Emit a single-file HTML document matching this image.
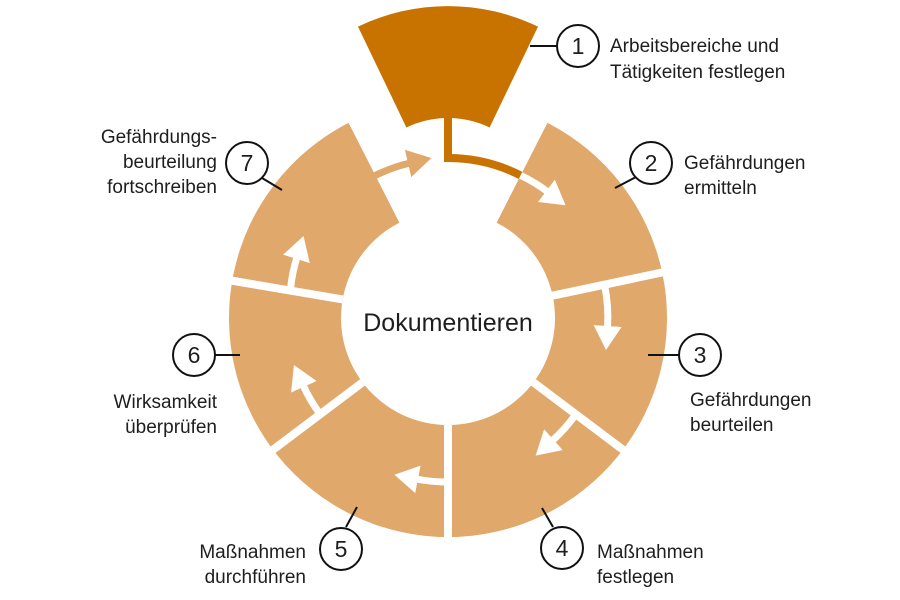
<!DOCTYPE html>
<html><head><meta charset="utf-8"><style>
html,body{margin:0;padding:0;background:#fff;}
svg{display:block;}
text{font-family:"Liberation Sans",sans-serif;fill:#1e1e1e;}
</style></head><body>
<svg width="900" height="600" viewBox="0 0 900 600" xmlns="http://www.w3.org/2000/svg">
<defs>
<marker id="aw" markerUnits="userSpaceOnUse" markerWidth="34" markerHeight="34" refX="2" refY="14" orient="auto">
<path d="M0,0 L24,14 L0,28 Z" fill="#fff"/>
</marker>
<marker id="al" markerUnits="userSpaceOnUse" markerWidth="34" markerHeight="34" refX="2" refY="14" orient="auto">
<path d="M0,0 L24,14 L0,28 Z" fill="#e0a86a"/>
</marker>
</defs>
<path d="M547.4,122.9 A219 219 0 1 1 348.6,122.9 L399.4,222.7 A107 107 0 1 0 496.6,222.7 Z" fill="#e0a86a"/>
<g stroke="#fff" stroke-width="8">
<line x1="551.9" y1="295.8" x2="669" y2="271"/>
<line x1="533.5" y1="382.4" x2="626" y2="452"/>
<line x1="448" y1="425" x2="448" y2="545"/>
<line x1="362.5" y1="382.4" x2="270" y2="452"/>
<line x1="342.6" y1="299.4" x2="228" y2="280"/>
</g>
<path d="M358,26.6 A208 208 0 0 1 538,26.6 L489.6,127.5 A96 96 0 0 0 406.4,127.5 Z" fill="#c87200"/>
<path d="M448,118 L448,158 A160 160 0 0 1 520.6,175.4" fill="none" stroke="#c87200" stroke-width="8"/>
<g fill="none" stroke="#fff" stroke-width="7">
<path d="M520.6,175.4 A160 160 0 0 1 548,192" marker-end="url(#aw)"/>
<path d="M604.5,284.7 A160 160 0 0 1 607.5,328" marker-end="url(#aw)"/>
<path d="M575.8,414.3 A160 160 0 0 1 552,441" marker-end="url(#aw)"/>
<path d="M448,482 A164 164 0 0 1 416,479" marker-end="url(#aw)"/>
<path d="M320.2,414.3 A160 160 0 0 1 303,385" marker-end="url(#aw)"/>
<path d="M290.4,290.2 A160 160 0 0 1 297,257" marker-end="url(#aw)"/>
</g>
<path d="M372.9,176.7 A160 160 0 0 1 410,163" fill="none" stroke="#e0a86a" stroke-width="7" marker-end="url(#al)"/>
<text x="448" y="331" font-size="25" text-anchor="middle">Dokumentieren</text>
<g fill="#fff" stroke="#111" stroke-width="2">
<line x1="530" y1="46" x2="557" y2="46"/>
<line x1="615" y1="188" x2="636" y2="177"/>
<line x1="648" y1="355" x2="679" y2="355"/>
<line x1="542" y1="508" x2="553" y2="527"/>
<line x1="357" y1="507" x2="346" y2="527"/>
<line x1="215" y1="355" x2="240" y2="355"/>
<line x1="262" y1="178" x2="282" y2="190"/>
<circle cx="578" cy="46" r="21"/>
<circle cx="651" cy="163" r="21"/>
<circle cx="700" cy="355" r="21"/>
<circle cx="562" cy="548" r="21"/>
<circle cx="341" cy="549" r="21"/>
<circle cx="194" cy="355" r="21"/>
<circle cx="247" cy="163" r="21"/>
</g>
<g font-size="23" text-anchor="middle">
<text x="578" y="54">1</text>
<text x="651" y="171">2</text>
<text x="700" y="363">3</text>
<text x="562" y="556">4</text>
<text x="341" y="557">5</text>
<text x="194" y="363">6</text>
<text x="247" y="171">7</text>
</g>
<g font-size="19">
<text x="610" y="52">Arbeitsbereiche und</text>
<text x="610" y="78">Tätigkeiten festlegen</text>
<text x="684" y="169">Gefährdungen</text>
<text x="684" y="194">ermitteln</text>
<text x="690" y="406">Gefährdungen</text>
<text x="690" y="431">beurteilen</text>
<text x="597" y="558">Maßnahmen</text>
<text x="597" y="583">festlegen</text>
</g>
<g font-size="19" text-anchor="end">
<text x="306" y="558">Maßnahmen</text>
<text x="306" y="583">durchführen</text>
<text x="217" y="408">Wirksamkeit</text>
<text x="217" y="433">überprüfen</text>
<text x="217" y="143">Gefährdungs-</text>
<text x="217" y="168">beurteilung</text>
<text x="217" y="193">fortschreiben</text>
</g>
</svg>
</body></html>
